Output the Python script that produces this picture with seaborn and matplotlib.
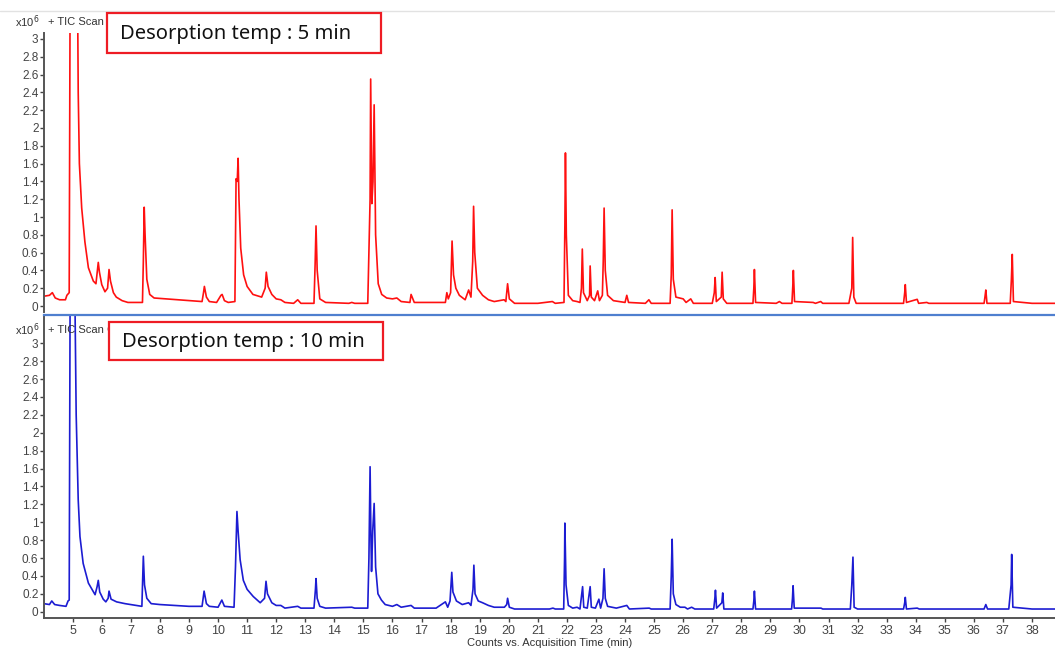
import numpy as np
import pandas as pd
import matplotlib
matplotlib.use("Agg")
import matplotlib.pyplot as plt
import seaborn as sns
from matplotlib.patches import Rectangle
from matplotlib.ticker import FormatStrFormatter

# trace for desorption 5 min (red), time in min, counts x10^6
rt_5min = [4.01, 4.20, 4.30, 4.40, 4.55, 4.75, 4.80, 4.88, 4.91, 5.17, 5.19, 5.23, 5.31, 5.42, 5.54,
           5.71, 5.80, 5.85, 5.88, 5.92, 6.00, 6.11, 6.20, 6.25, 6.30, 6.40, 6.50, 6.70, 6.90, 7.20,
           7.40, 7.43, 7.46, 7.49, 7.55, 7.65, 7.80, 8.20, 8.60, 9.00, 9.45, 9.50, 9.53, 9.60, 9.70,
           9.95, 10.10, 10.14, 10.22, 10.35, 10.58, 10.60, 10.62, 10.66, 10.69, 10.72, 10.78, 10.88,
           11.00, 11.20, 11.50, 11.62, 11.66, 11.72, 11.85, 12.00, 12.16, 12.30, 12.60, 12.74, 12.85,
           13.30, 13.34, 13.37, 13.41, 13.50, 13.70, 14.50, 14.60, 14.70, 15.15, 15.19, 15.23, 15.25,
           15.29, 15.33, 15.37, 15.42, 15.51, 15.63, 15.80, 16.00, 16.15, 16.30, 16.60, 16.64, 16.75,
           17.20, 17.50, 17.82, 17.87, 17.92, 18.00, 18.05, 18.10, 18.18, 18.30, 18.50, 18.62, 18.70,
           18.76, 18.79, 18.83, 18.92, 19.10, 19.30, 19.50, 19.84, 19.90, 19.96, 20.02, 20.20, 21.00,
           21.50, 21.60, 21.90, 21.93, 21.95, 21.98, 22.05, 22.20, 22.35, 22.45, 22.50, 22.53, 22.57,
           22.70, 22.78, 22.80, 22.84, 22.95, 23.06, 23.12, 23.22, 23.25, 23.28, 23.32, 23.40, 23.60,
           24.00, 24.06, 24.12, 24.70, 24.82, 24.90, 25.55, 25.59, 25.62, 25.66, 25.75, 26.00, 26.10,
           26.26, 26.35, 27.00, 27.07, 27.10, 27.14, 27.31, 27.34, 27.38, 27.50, 28.40, 28.43, 28.45,
           28.49, 29.20, 29.31, 29.40, 29.74, 29.77, 29.79, 29.83, 30.47, 30.55, 30.73, 30.80, 31.70,
           31.80, 31.83, 31.87, 31.95, 33.58, 33.62, 33.64, 33.68, 34.05, 34.10, 34.38, 34.45, 35.00,
           36.35, 36.38, 36.41, 36.45, 37.25, 37.29, 37.32, 37.36, 38.00, 38.79]
tic_5min = [0.11, 0.12, 0.15, 0.09, 0.07, 0.07, 0.12, 0.15, 3.40, 3.40, 2.40, 1.60, 1.10, 0.72, 0.43,
            0.28, 0.25, 0.40, 0.49, 0.38, 0.24, 0.16, 0.20, 0.41, 0.28, 0.15, 0.10, 0.06, 0.04, 0.04,
            0.04, 0.50, 1.11, 0.80, 0.30, 0.13, 0.09, 0.08, 0.07, 0.06, 0.05, 0.15, 0.22, 0.10, 0.05,
            0.04, 0.12, 0.13, 0.06, 0.04, 0.05, 0.80, 1.43, 1.40, 1.66, 1.20, 0.65, 0.35,
            0.22, 0.13, 0.10, 0.20, 0.38, 0.22, 0.13, 0.08, 0.07, 0.04, 0.03, 0.07, 0.03,
            0.03, 0.48, 0.90, 0.40, 0.08, 0.04, 0.03, 0.04, 0.03, 0.03, 0.60, 1.20, 2.55,
            1.15, 1.40, 2.26, 0.80, 0.25, 0.13, 0.09, 0.08, 0.09, 0.05, 0.04, 0.13, 0.04,
            0.04, 0.04, 0.04, 0.15, 0.08, 0.15, 0.73, 0.35, 0.20, 0.12, 0.07, 0.18, 0.10,
            0.50, 1.12, 0.60, 0.20, 0.12, 0.07, 0.05, 0.07, 0.05, 0.25, 0.08, 0.03, 0.03,
            0.05, 0.03, 0.04, 0.90, 1.72, 0.80, 0.12, 0.06, 0.05, 0.04, 0.20, 0.64, 0.15,
            0.06, 0.12, 0.45, 0.10, 0.06, 0.17, 0.06, 0.12, 0.50, 1.10, 0.40, 0.12, 0.06,
            0.04, 0.12, 0.04, 0.03, 0.07, 0.03, 0.03, 0.35, 1.08, 0.30, 0.10, 0.08, 0.04,
            0.08, 0.03, 0.03, 0.15, 0.32, 0.05, 0.10, 0.38, 0.08, 0.03, 0.03, 0.20, 0.41,
            0.04, 0.03, 0.05, 0.03, 0.03, 0.22, 0.40, 0.05, 0.04, 0.03, 0.05, 0.03, 0.03,
            0.20, 0.77, 0.10, 0.03, 0.03, 0.15, 0.24, 0.04, 0.075, 0.03, 0.04, 0.03, 0.03,
            0.03, 0.10, 0.18, 0.03, 0.03, 0.30, 0.58, 0.05, 0.03, 0.03]

# trace for desorption 10 min (blue)
rt_10min = [4.01, 4.20, 4.28, 4.38, 4.55, 4.77, 4.84, 4.88, 4.91, 5.08, 5.12, 5.19, 5.25, 5.36, 5.54,
            5.77, 5.84, 5.88, 5.93, 6.05, 6.14, 6.22, 6.25, 6.32, 6.51, 6.80, 7.08, 7.38, 7.41, 7.43,
            7.47, 7.55, 7.70, 8.00, 8.50, 9.00, 9.45, 9.52, 9.60, 9.70, 10.00, 10.13, 10.22, 10.55,
            10.60, 10.65, 10.69, 10.76, 10.87, 11.00, 11.21, 11.45, 11.60, 11.65, 11.70, 11.85, 12.00,
            12.16, 12.30, 12.74, 12.85, 13.30, 13.35, 13.37, 13.41, 13.50, 13.70, 14.60, 14.70, 15.15,
            15.19, 15.23, 15.26, 15.28, 15.32, 15.37, 15.42, 15.50, 15.62, 15.75, 16.00, 16.15, 16.30,
            16.64, 16.75, 17.50, 17.82, 17.90, 17.98, 18.04, 18.08, 18.20, 18.40, 18.62, 18.70, 18.77,
            18.80, 18.84, 18.95, 19.10, 19.30, 19.50, 19.85, 19.93, 19.96, 20.02, 20.20, 21.40, 21.52,
            21.60, 21.89, 21.92, 21.93, 21.97, 22.05, 22.20, 22.35, 22.45, 22.54, 22.58, 22.70, 22.80,
            22.84, 22.98, 23.10, 23.16, 23.24, 23.28, 23.32, 23.40, 23.70, 24.06, 24.15, 24.83, 24.90,
            25.55, 25.59, 25.62, 25.66, 25.75, 25.90, 26.06, 26.15, 26.29, 26.40, 27.05, 27.09, 27.11,
            27.15, 27.33, 27.36, 27.40, 28.40, 28.43, 28.45, 28.49, 29.73, 29.76, 29.78, 29.82, 30.74,
            30.80, 31.75, 31.80, 31.84, 31.88, 32.00, 33.58, 33.62, 33.64, 33.68, 34.05, 34.12, 34.40,
            35.77, 36.35, 36.41, 36.47, 37.20, 37.28, 37.30, 37.34, 38.00, 38.79]
tic_10min = [0.09, 0.08, 0.12, 0.08, 0.07, 0.06, 0.12, 0.13, 3.40, 3.40, 2.20, 1.25, 0.84, 0.54, 0.32,
             0.19, 0.28, 0.35, 0.22, 0.14, 0.11, 0.15, 0.23, 0.14, 0.11, 0.09, 0.075, 0.06, 0.40, 0.62,
             0.30, 0.15, 0.09, 0.08, 0.07, 0.06, 0.06, 0.23, 0.09, 0.06, 0.05, 0.13, 0.06, 0.05,
             0.50, 1.12, 0.90, 0.58, 0.35, 0.25, 0.17, 0.10, 0.15, 0.34, 0.20, 0.10, 0.07,
             0.07, 0.04, 0.06, 0.04, 0.04, 0.25, 0.37, 0.15, 0.06, 0.04, 0.05, 0.04, 0.04,
             0.60, 1.62, 0.80, 0.45, 0.90, 1.21, 0.50, 0.20, 0.13, 0.08, 0.06, 0.08, 0.05,
             0.07, 0.04, 0.04, 0.11, 0.05, 0.12, 0.44, 0.22, 0.12, 0.08, 0.10, 0.07, 0.25,
             0.52, 0.20, 0.12, 0.10, 0.07, 0.05, 0.05, 0.08, 0.15, 0.05, 0.03, 0.03, 0.04,
             0.03, 0.03, 0.60, 0.99, 0.30, 0.07, 0.04, 0.05, 0.03, 0.28, 0.05, 0.04, 0.28,
             0.05, 0.04, 0.14, 0.04, 0.15, 0.48, 0.15, 0.06, 0.04, 0.07, 0.03, 0.04, 0.03,
             0.03, 0.40, 0.81, 0.20, 0.08, 0.05, 0.05, 0.03, 0.05, 0.03, 0.03, 0.15, 0.24,
             0.04, 0.10, 0.21, 0.03, 0.03, 0.12, 0.23, 0.03, 0.03, 0.15, 0.29, 0.04, 0.04,
             0.03, 0.03, 0.30, 0.61, 0.05, 0.03, 0.03, 0.10, 0.16, 0.03, 0.04, 0.03, 0.03,
             0.03, 0.03, 0.08, 0.03, 0.03, 0.30, 0.64, 0.05, 0.03, 0.03]

panel_titles = ["Desorption temp : 5 min", "Desorption temp : 10 min"]
ytick_vals = [0, 0.2, 0.4, 0.6, 0.8, 1, 1.2, 1.4, 1.6, 1.8, 2, 2.2, 2.4, 2.6, 2.8, 3]
xtick_vals = list(range(5, 39))

sns.set_style("white")
plt.rcParams['font.family'] = ['Liberation Sans', 'DejaVu Sans']

df5 = pd.DataFrame({'t': rt_5min, 'tic': tic_5min})
df10 = pd.DataFrame({'t': rt_10min, 'tic': tic_10min})

fig = plt.figure(figsize=(10.55, 6.48), dpi=100)
W, H = 1055, 648
ax1 = fig.add_axes([44 / W, 1 - 312 / H, 1 - 44 / W, 279 / H])
ax2 = fig.add_axes([44 / W, 1 - 618 / H, 1 - 44 / W, 303 / H])

sns.lineplot(data=df5, x='t', y='tic', ax=ax1, color='#ff1010', lw=1.2,
             estimator=None, sort=False)
sns.lineplot(data=df10, x='t', y='tic', ax=ax2, color='#1c1cd2', lw=1.2,
             estimator=None, sort=False)

ax1.set_ylim(-0.0674, 3.0674)
ax2.set_ylim(-0.0704, 3.316)
for ax in (ax1, ax2):
    ax.set_xlim(4.013, 38.79)
    ax.set_xlabel('')
    ax.set_ylabel('')
    ax.set_yticks(ytick_vals)
    ax.yaxis.set_major_formatter(FormatStrFormatter('%g'))
    ax.tick_params(axis='y', direction='out', length=3, width=1, colors='#444444',
                   labelsize=8.5, pad=1, left=True)
    ax.spines['left'].set_color('#555555')
    ax.spines['left'].set_linewidth(1.4)
    ax.set_facecolor('white')

for s in ('top', 'right', 'bottom'):
    ax1.spines[s].set_visible(False)
ax1.set_xticks([])

ax2.set_xticks(xtick_vals)
ax2.tick_params(axis='x', direction='out', length=3, width=1, colors='#444444',
                labelsize=9, pad=2, bottom=True)
ax2.spines['bottom'].set_color('#555555')
ax2.spines['bottom'].set_linewidth(1.4)
ax2.spines['top'].set_color('#4f7fcf')
ax2.spines['top'].set_linewidth(1.6)
ax2.spines['right'].set_visible(False)
ax2.set_xlabel('Counts vs. Acquisition Time (min)', fontsize=8, color='#333333', labelpad=1)

# thin grey line at the very top of the window
fig.add_artist(plt.Line2D([0, 1], [1 - 11 / H, 1 - 11 / H], color='#e2e2e2', lw=1))

# header texts of each panel
fig.text(39 / W, 1 - 22 / H, r'x10$^{6}$', ha='right', va='center', fontsize=8, color='#333333')
fig.text(48 / W, 1 - 22 / H, '+ TIC Scan', ha='left', va='center', fontsize=8, color='#333333')
fig.text(39 / W, 1 - 330 / H, r'x10$^{6}$', ha='right', va='center', fontsize=8, color='#333333')
fig.text(48 / W, 1 - 330 / H, '+ TIC Scan C', ha='left', va='center', fontsize=8, color='#333333')

# red label boxes
boxes = [(107, 13, 381, 53), (109, 322, 383, 360)]
for (x0, y0, x1, y1), title in zip(boxes, panel_titles):
    fig.add_artist(Rectangle((x0 / W, 1 - y1 / H), (x1 - x0) / W, (y1 - y0) / H,
                             transform=fig.transFigure, facecolor='white',
                             edgecolor='#ee1c24', lw=1.6, zorder=5))
    fig.text((x0 + 13) / W, 1 - (y0 + y1) / 2 / H - 1 / H, title, ha='left', va='center',
             fontsize=14.5, family=['Noto Sans', 'DejaVu Sans'], color='#111111', zorder=6)

fig.savefig('out.png', dpi=100)
